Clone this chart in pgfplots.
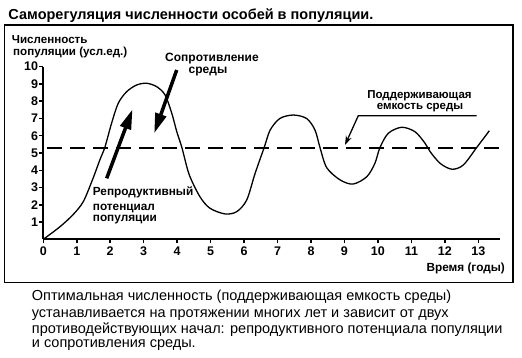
\documentclass[border=0pt]{standalone}
\usepackage{fontspec}
\setmainfont{Liberation Sans}
\usepackage{pgfplots}
\pgfplotsset{compat=1.18}
\usetikzlibrary{arrows.meta}
\begin{document}
\begin{tikzpicture}
\path[use as bounding box, fill=white] (0pt,0pt) rectangle (522pt,358pt);
\draw[line width=1.5pt] (4.5pt,333pt) rectangle (513pt,75.3pt);
\begin{axis}[at={(43.3pt,118.7pt)}, anchor=origin,
  x=33.46pt, y=17.26pt,
  xmin=0, xmax=13.65, ymin=0, ymax=10, enlargelimits=false,
  axis x line=bottom, axis y line=left,
  axis line style={-, line width=1.8pt},
  xtick={0,...,13}, ytick={1,...,10},
  tick align=outside, major tick length=4pt,
  tick style={line width=1.5pt, black},
  ticklabel style={font=\fontsize{12.5}{12.5}\selectfont\bfseries},
  yticklabel style={inner sep=1pt},
  /pgf/number format/assume math mode=true,
  clip=false]
\addplot[black, line width=2pt, dash pattern=on 15pt off 8pt] coordinates {(0.12,5.3) (13.62,5.3)};
\addplot[black, smooth, tension=0.5, line width=1.3pt] coordinates {
(0,0) (0.5,0.73) (0.9,1.45) (1.2,2.2) (1.49,3.55) (1.69,4.6) (1.84,5.33)
(2.04,6.72) (2.24,7.88) (2.49,8.55) (2.79,8.94) (3.09,9.04) (3.39,8.84)
(3.64,8.36) (3.84,7.3) (3.99,6.23) (4.14,5.33) (4.36,3.75) (4.68,2.47)
(4.98,1.8) (5.43,1.47) (5.78,1.6) (6.08,2.28) (6.33,3.82) (6.6,5.31)
(6.78,6.33) (7.07,7.0) (7.47,7.2) (7.87,7.0) (8.12,6.33) (8.27,5.31)
(8.47,4.15) (8.87,3.44) (9.26,3.2) (9.67,3.63) (9.91,4.4) (10.06,5.31)
(10.31,6.14) (10.71,6.49) (11.11,6.23) (11.41,5.56) (11.56,5.08) (11.86,4.4)
(12.21,4.06) (12.55,4.3) (12.95,5.31) (13.33,6.29)};
\end{axis}
% arrows
\draw[line width=3.5pt, -{Triangle[length=20pt,width=11pt]}] (106.7pt,179.7pt) -- (132.5pt,248.7pt);
\draw[line width=3.5pt, -{Triangle[length=20pt,width=11pt]}] (176.7pt,288pt) -- (154.2pt,224.7pt);
\draw[line width=1.3pt, -{Stealth[length=9pt,width=6pt]}] (476.7pt,242.3pt) -- (358.3pt,242.3pt) -- (345pt,213pt);
% texts
\node[anchor=base west, inner sep=0pt, font=\fontsize{14.5}{15}\selectfont\bfseries] at (8.3pt,338pt) {Саморегуляция численности особей в популяции.};
\node[anchor=base west, inner sep=0pt, font=\fontsize{11.6}{12}\selectfont\bfseries] at (11.7pt,314pt) {Численность};
\node[anchor=base west, inner sep=0pt, font=\fontsize{11.6}{12}\selectfont\bfseries] at (13pt,302.7pt) {популяции (усл.ед.)};
\node[anchor=base, inner sep=0pt, font=\fontsize{12}{12}\selectfont\bfseries] at (212pt,296.3pt) {Сопротивление};
\node[anchor=base, inner sep=0pt, font=\fontsize{12}{12}\selectfont\bfseries] at (208pt,284pt) {среды};
\node[anchor=base, inner sep=0pt, font=\fontsize{11.5}{12}\selectfont\bfseries] at (419.5pt,259.7pt) {Поддерживающая};
\node[anchor=base, inner sep=0pt, font=\fontsize{11.5}{12}\selectfont\bfseries] at (420pt,248.3pt) {емкость среды};
\node[anchor=base west, inner sep=0pt, font=\fontsize{11.8}{12}\selectfont\bfseries] at (92.7pt,162pt) {Репродуктивный};
\node[anchor=base west, inner sep=0pt, font=\fontsize{11.8}{12}\selectfont\bfseries] at (92.7pt,147.3pt) {потенциал};
\node[anchor=base west, inner sep=0pt, font=\fontsize{11.8}{12}\selectfont\bfseries] at (92.7pt,136.3pt) {популяции};
\node[anchor=base east, inner sep=0pt, font=\fontsize{11.8}{12}\selectfont\bfseries] at (505pt,86.3pt) {Время (годы)};
\node[anchor=base west, inner sep=0pt, font=\fontsize{14.5}{15}\selectfont] at (31.7pt,57pt) {Оптимальная численность (поддерживающая емкость среды)};
\node[anchor=base west, inner sep=0pt, font=\fontsize{14.5}{15}\selectfont] at (31.7pt,40.3pt) {устанавливается на протяжении многих лет и зависит от двух};
\node[anchor=base west, inner sep=0pt, font=\fontsize{14.5}{15}\selectfont] at (31.7pt,24.7pt) {противодействующих начал: репродуктивного потенциала популяции};
\node[anchor=base west, inner sep=0pt, font=\fontsize{14.5}{15}\selectfont] at (31.7pt,10.7pt) {и сопротивления среды.};
\end{tikzpicture}
\end{document}
